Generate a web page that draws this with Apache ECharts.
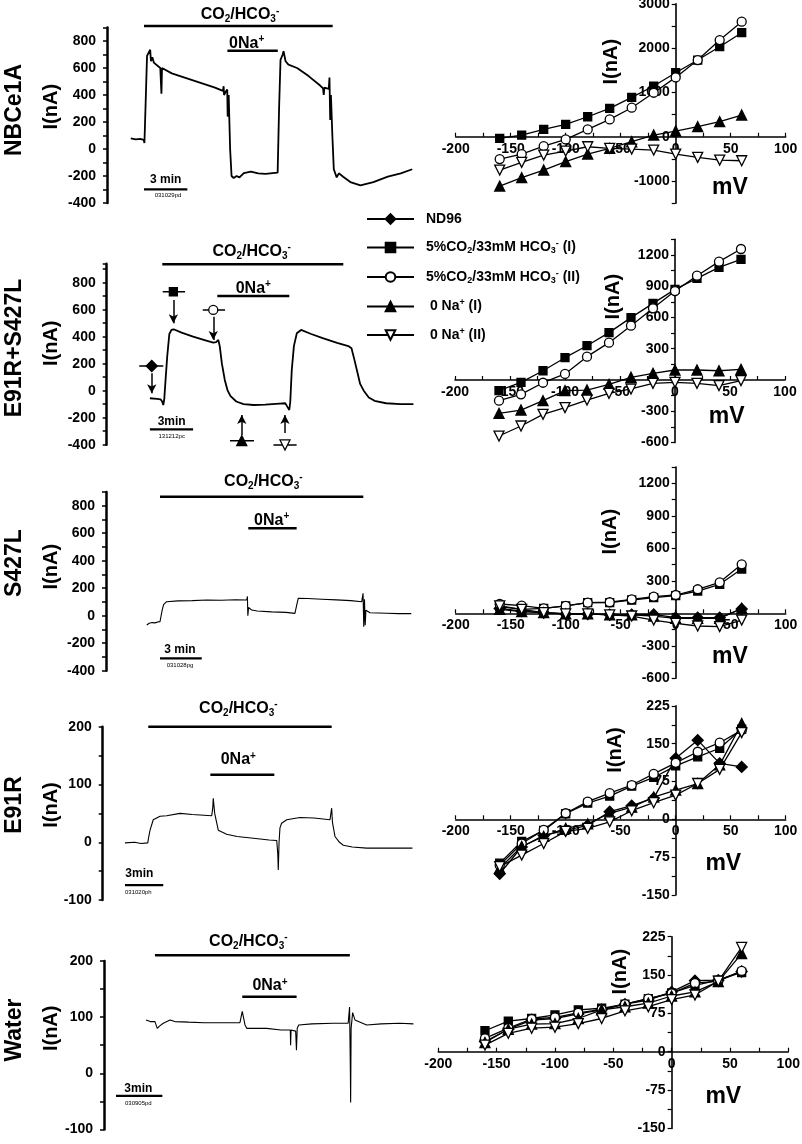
<!DOCTYPE html>
<html><head><meta charset="utf-8">
<script src="https://cdn.jsdelivr.net/npm/echarts@6/dist/echarts.min.js"></script>
<style>html,body{margin:0;padding:0;background:#fff}#c{width:802px;height:1144px}</style>
</head><body><div id="c"></div>
<script>
// ---------- DATA ----------
// Left: current traces (time in min, current in nA)
const traceNBCe1A = [[1.65,79],[2.0,72],[2.3,75],[2.55,68],[2.6,45],[2.7,400],[2.78,690],[2.9,700],[3.0,735],[3.05,650],[3.15,680],[3.25,640],[3.7,600],[3.78,410],[3.82,600],[4.5,560],[5.5,525],[6.5,490],[7.5,455],[8.05,430],[8.1,465],[8.13,400],[8.25,425],[8.35,440],[8.38,240],[8.45,400],[8.55,0],[8.65,-200],[8.8,-215],[9.0,-200],[9.2,-210],[9.5,-178],[10.0,-168],[10.5,-180],[11.0,-185],[11.85,-175],[11.95,300],[12.05,660],[12.2,700],[12.26,725],[12.4,650],[12.6,625],[13.2,600],[14.0,540],[14.8,470],[15.0,450],[15.05,400],[15.1,455],[15.4,445],[15.45,530],[15.5,215],[15.55,400],[15.65,100],[15.75,-150],[15.85,-160],[15.95,-210],[16.1,-180],[16.4,-205],[16.9,-245],[17.6,-270],[18.5,-245],[19.5,-205],[20.4,-180],[21.2,-150]];
const traceDouble = [[3.0,-56],[3.5,-60],[3.75,-65],[3.85,-80],[3.93,-106],[4.0,-60],[4.1,100],[4.2,250],[4.35,420],[4.5,450],[4.65,455],[5.2,430],[6.0,400],[6.8,375],[7.4,356],[7.6,360],[7.75,376],[7.85,330],[8.0,200],[8.2,80],[8.4,0],[8.6,-40],[9.0,-80],[9.5,-100],[10.2,-106],[11.0,-103],[12.0,-95],[12.4,-93],[12.55,-120],[12.68,-143],[12.75,-80],[12.85,150],[13.0,330],[13.2,425],[13.5,450],[14.2,420],[15.0,390],[16.0,355],[16.78,331],[17.0,314],[17.2,230],[17.4,140],[17.6,50],[17.85,0],[18.2,-50],[18.6,-75],[19.4,-93],[20.4,-99],[21.3,-100]];
const traceS427L = [[2.83,-68],[3.0,-55],[3.2,-50],[3.4,-52],[3.6,-45],[3.75,-44],[3.9,40],[4.0,80],[4.21,102],[5,108],[6,110],[7,114],[8,112],[9,116],[9.77,114],[9.82,140],[9.85,0],[9.9,60],[10.12,41],[10.5,34],[11.5,28],[12.5,24],[13.12,17],[13.25,80],[13.35,126],[14,125],[15,120],[16,115],[17,110],[17.76,102],[17.85,163],[17.9,-80],[17.95,120],[18.0,-70],[18.05,40],[18.33,22],[19.5,18],[20.3,15],[21.2,15]];
const traceE91R = [[1.74,-1],[2.5,0],[3.0,-2],[3.52,-1],[3.6,10],[3.7,21],[3.95,39],[4.48,45],[5.0,46],[6.04,50],[7.0,48],[8.52,46],[8.6,60],[8.64,76],[8.75,50],[9.03,21],[9.68,14],[10.5,10],[11.77,7],[13.0,4],[13.6,3],[13.68,-20],[13.72,-48],[13.78,0],[13.85,25],[13.98,33],[14.38,39],[15.41,43],[16.5,42],[17.76,39],[17.86,55],[17.89,59],[17.95,35],[18.15,10],[18.5,0],[18.8,-5],[19.5,-8],[20.63,-10],[22.0,-10],[23.2,-10],[24.2,-10]];
const traceWater = [[2.73,95],[3.0,92],[3.31,92],[3.46,80],[3.6,84],[3.85,89],[4.29,95],[4.6,92],[5.5,91],[6.5,90],[7.5,90],[8.83,90],[8.98,110],[9.16,86],[9.27,80],[10.56,80],[11.5,77],[12.1,77],[12.12,50],[12.15,77],[12.45,75],[12.5,41],[12.55,80],[12.65,86],[13.5,88],[14.89,89],[15.86,89],[15.95,118],[16.0,10],[16.02,-52],[16.05,80],[16.15,108],[16.3,95],[17.06,86],[18.0,88],[19.22,89],[20.1,88]];

// Solution bars [start, end, level]
const co2Bars   = [[2.57,15.67,911],[3.86,16.43,936],[3.75,17.87,866],[3.56,17.89,200],[3.31,15.97,210]];
const naBars    = [[8.36,11.86,728],[7.68,12.68,701],[9.88,13.24,636],[8.41,13.41,117],[8.98,12.51,136]];
const scaleBars = [[2.57,5.58,-299],[3.0,6.0,-286],[3.75,6.65,-310],[1.74,4.73,-74],[0.78,3.79,-40]];
const rowNames  = ['NBCe1A','E91R+S427L','S427L','E91R','Water'];
const recIds    = ['031029pd','131212pc','031028pg','031020ph','030905pd'];
const scaleText = ['3 min','3min','3 min','3min','3min'];

// E91R+S427L markers: [key, time, level, dashStart, dashEnd, arrowFrom, arrowTo]
const doubleMarks = [['nd',3.13,183,2.26,3.93,129,-19],['sq',4.63,733,3.89,5.44,672,499],['ci',7.40,598,6.67,8.22,548,376],['tf',9.38,-370,8.56,10.23,-328,-180],['to',12.38,-402,11.58,13.19,-313,-180]];

// Right: I-V relations
const mV = [-160,-140,-120,-100,-80,-60,-40,-20,0,20,40,60];
const ivNBCe1A = {
  sq:[-38,38,166,278,451,640,888,1144,1445,1731,2032,2348],
  ci:[-504,-391,-211,-60,166,391,655,993,1339,1731,2182,2596],
  tf:[-1114,-925,-752,-564,-391,-263,-113,38,128,226,339,489],
  to:[-752,-579,-414,-323,-226,-263,-278,-301,-391,-466,-527,-542]};
const ivDouble = {
  sq:[-102,-22,89,214,329,454,598,735,869,975,1080,1157],
  ci:[-198,-137,-26,58,224,358,521,687,853,1000,1135,1256],
  tf:[-320,-288,-198,-102,-96,-42,26,64,96,96,89,102],
  to:[-537,-441,-329,-265,-192,-128,-86,-32,-22,-32,-54,-6]};
const ivS427L = {
  nd:[45,20,5,-6,-6,-12,-12,-10,-40,-40,-40,40],
  sq:[62,37,46,68,98,98,123,145,163,206,268,409],
  ci:[86,71,46,68,98,102,129,154,169,222,286,452],
  tf:[37,15,6,-6,-6,-15,-15,-25,-46,-46,-46,46],
  to:[68,37,6,-6,-6,-15,-25,-62,-92,-117,-123,-62]};
const ivE91R = {
  nd:[-108,-55,-32,-22,-12,15,27,42,121,157,111,104],
  sq:[-87,-44,-22,11,32,46,66,83,106,124,141,179],
  ci:[-91,-48,-21,12,35,52,68,90,112,134,152,177],
  tf:[-97,-54,-34,-18,-9,12,24,44,58,71,108,190],
  to:[-94,-71,-48,-24,-18,-5,17,33,48,71,99,172]};
const ivWater = {
  nd:[20,44,62,65,74,82,93,101,117,139,140,157],
  sq:[41,60,65,72,82,85,93,104,115,130,140,155],
  ci:[26,46,64,67,76,83,93,104,114,134,138,158],
  tf:[18,44,54,55,65,82,88,95,109,117,137,192],
  to:[13,36,46,48,55,65,80,88,102,111,138,204]};
const legendNames = ['ND96','5%CO2/33mM HCO3- (I)','5%CO2/33mM HCO3- (II)','0 Na+ (I)','0 Na+ (II)'];

// ---------- LAYOUT / STYLE ----------
const FN = '"Liberation Sans Narrow","Liberation Sans",Arial,sans-serif';
const FR = '"Liberation Sans",Arial,sans-serif';
const traces = [traceNBCe1A, traceDouble, traceS427L, traceE91R, traceWater];
const ivs = [ivNBCe1A, ivDouble, ivS427L, ivE91R, ivWater];
const leftL = [
 {left:107, top:27.5, width:309.6, height:175.5, ymin:-400, ymax:900, step:100, lab:200, tmax:21.5, lw:1.8},
 {left:106.7, top:263.8, width:309.6, height:180.9, ymin:-400, ymax:940, step:100, lab:200, tmax:21.5, lw:1.8},
 {left:106, top:492, width:309.6, height:178.7, ymin:-400, ymax:900, step:100, lab:200, tmax:21.5, lw:1.1},
 {left:102.7, top:726.7, width:311, height:173.4, ymin:-100, ymax:200, step:50, lab:100, tmax:24.3, lw:1.1},
 {left:104, top:960.9, width:311, height:168.6, ymin:-100, ymax:200, step:50, lab:100, tmax:20.2, lw:1.1}];
const rightL = [
 {left:455.7, top:3.8, width:330, height:199.4, ymin:-1500, ymax:3000, step:500, lab:1000, hide0:false},
 {left:455, top:239.2, width:330, height:203.4, ymin:-600, ymax:1350, step:150, lab:300, hide0:true},
 {left:455.7, top:467.1, width:330, height:211.2, ymin:-600, ymax:1350, step:150, lab:300, hide0:true},
 {left:455.7, top:705.9, width:330, height:189, ymin:-150, ymax:225, step:37.5, lab:75, hide0:false},
 {left:438.3, top:936.7, width:350, height:191.7, ymin:-150, ymax:225, step:37.5, lab:75, hide0:false}];
const sty = {
 nd:{name:legendNames[0], symbol:'diamond', size:11, fill:'#000', rot:0},
 sq:{name:legendNames[1], symbol:'rect', size:8, fill:'#000', rot:0},
 ci:{name:legendNames[2], symbol:'circle', size:9, fill:'#fff', rot:0},
 tf:{name:legendNames[3], symbol:'triangle', size:10, fill:'#000', rot:0},
 to:{name:legendNames[4], symbol:'triangle', size:10, fill:'#fff', rot:180}};
const textPos = {
 co2:[[240,15],[251.7,251.7],[263.3,481.7],[238.3,708.3],[248.3,941.7]],
 na:[[246.7,43.3],[253.3,288.3],[271.7,520.7],[238.3,760],[270,986]],
 scale:[[165.7,180],[171.7,421.7],[180,649.3],[139.3,873.3],[138.3,1088.3]],
 id:[[168,195],[171.7,436],[180,665],[138.3,892.3],[138.3,1103.3]],
 row:[[15,110],[15,348],[15,563],[15,805],[15,1030]],
 lI:[[51.7,106.7],[51.7,343.3],[51.7,566.7],[51.7,805],[51.7,1028.3]],
 rI:[[611.7,61.7],[613.3,296.7],[610,531.7],[615,750],[620,971.7]],
 mv:[[730,188],[726.7,416.7],[730,656.7],[723.3,863.3],[723.3,1096.7]]};

const rich = {
 n:{fontFamily:FN, fontWeight:'bold', fontSize:16, color:'#000'},
 s:{fontFamily:FN, fontWeight:'bold', fontSize:10, color:'#000', padding:[9,0,0,0]},
 p:{fontFamily:FN, fontWeight:'bold', fontSize:10, color:'#000', padding:[0,0,8,0]}};
function txt(x,y,text,font,rot,extra){
  return Object.assign({type:'text', x:x, y:y, rotation:rot||0, silent:true,
    style:{text:text, font:font, fill:'#000', textAlign:'center', textVerticalAlign:'middle', align:'center', verticalAlign:'middle', rich:rich}}, extra||{});
}

const grids=[], xAxes=[], yAxes=[], series=[], graphics=[];
// Left panels
leftL.forEach((L,i)=>{
  grids.push({left:L.left, top:L.top, width:L.width, height:L.height, containLabel:false, outerBoundsMode:'none'});
  xAxes.push({type:'value', gridIndex:i, min:0, max:L.tmax, show:false});
  yAxes.push({type:'value', gridIndex:i, min:L.ymin, max:L.ymax, interval:L.step, splitLine:{show:false},
    axisLine:{show:true, onZero:false, lineStyle:{color:'#000', width:2.5}},
    axisTick:{show:true, length:4, lineStyle:{color:'#000', width:1.5}},
    axisLabel:{margin:11, color:'#000', fontFamily:FN, fontWeight:'bold', fontSize:14,
      formatter:v=> (Math.abs(v % L.lab) < 1e-9 ? String(v) : '')}});
  const lineS = (data,w)=>({type:'line', xAxisIndex:i, yAxisIndex:i, data:data, symbol:'none', clip:false, silent:true,
     lineStyle:{color:'#000', width:w}, z:3});
  series.push(lineS(traces[i], L.lw));
  series.push(lineS([[co2Bars[i][0],co2Bars[i][2]],[co2Bars[i][1],co2Bars[i][2]]], 2.5));
  series.push(lineS([[naBars[i][0],naBars[i][2]],[naBars[i][1],naBars[i][2]]], 2.5));
  series.push(lineS([[scaleBars[i][0],scaleBars[i][2]],[scaleBars[i][1],scaleBars[i][2]]], 2.2));
  graphics.push(txt(textPos.co2[i][0],textPos.co2[i][1],'{n|CO}{s|2}{n|/HCO}{s|3}{p|-}','bold 16px '+FN));
  graphics.push(txt(textPos.na[i][0],textPos.na[i][1],'{n|0Na}{p|+}','bold 16px '+FN));
  graphics.push(txt(textPos.scale[i][0],textPos.scale[i][1],scaleText[i],'bold 12px '+FN));
  graphics.push(txt(textPos.id[i][0],textPos.id[i][1],recIds[i],'6px '+FR));
  graphics.push(txt(textPos.row[i][0],textPos.row[i][1],rowNames[i],'bold 23px '+FR,Math.PI/2));
  graphics.push(txt(textPos.lI[i][0],textPos.lI[i][1],'I(nA)','bold 20px '+FR,Math.PI/2));
});
// Markers on the E91R+S427L trace
doubleMarks.forEach(m=>{
  const s = sty[m[0]];
  series.push({type:'line', name:'mark-'+m[0], xAxisIndex:1, yAxisIndex:1, clip:false, silent:true, z:4,
    symbol:s.symbol, symbolSize:s.size, symbolRotate:s.rot, showSymbol:true,
    itemStyle:{color:s.fill, borderColor:'#000', borderWidth:1.3},
    lineStyle:{color:'#000', width:1.5},
    data:[{value:[m[3],m[2]],symbol:'none'},{value:[m[1],m[2]]},{value:[m[4],m[2]],symbol:'none'}],
    markLine:{silent:true, symbol:['none','arrow'], symbolSize:[7,9], label:{show:false}, animation:false,
      lineStyle:{color:'#000', width:1.5, type:'solid'},
      data:[[{coord:[m[1],m[5]]},{coord:[m[1],m[6]]}]]}});
});
// Right panels (axes cross at the origin)
rightL.forEach((R,j)=>{
  const gi = 5+j;
  const xOff = -(0 - R.ymin)/(R.ymax - R.ymin)*R.height;
  const yOff = -(0 - (-200))/300*R.width;
  grids.push({left:R.left, top:R.top, width:R.width, height:R.height, containLabel:false, outerBoundsMode:'none'});
  xAxes.push({type:'value', gridIndex:gi, min:-200, max:100, interval:25, splitLine:{show:false},
    position:'bottom', offset:xOff,
    axisLine:{onZero:false, lineStyle:{color:'#000', width:1.6}},
    axisTick:{inside:true, length:4, lineStyle:{color:'#000', width:1.2}},
    axisLabel:{margin:5, color:'#000', fontFamily:FN, fontWeight:'bold', fontSize:14,
      formatter:v=> (v % 50 === 0 ? String(v) : '')}});
  yAxes.push({type:'value', gridIndex:gi, min:R.ymin, max:R.ymax, interval:R.step, splitLine:{show:false},
    position:'left', offset:yOff,
    axisLine:{onZero:false, lineStyle:{color:'#000', width:1.6}},
    axisTick:{length:4, lineStyle:{color:'#000', width:1.2}},
    axisLabel:{margin:6, color:'#000', fontFamily:FN, fontWeight:'bold', fontSize:14,
      formatter:v=> (Math.abs(v % R.lab) < 1e-9 && !(R.hide0 && v===0) ? String(v) : '')}});
  const iv = ivs[j];
  ['nd','sq','ci','tf','to'].forEach(k=>{
    if(!iv[k]) return;
    const s = sty[k];
    series.push({type:'line', name:s.name, xAxisIndex:gi, yAxisIndex:gi, clip:false, silent:true, z:5,
      data: mV.map((x,n)=>[x, iv[k][n]]), symbol:s.symbol, symbolSize:s.size, symbolRotate:s.rot, showSymbol:true,
      itemStyle:{color:s.fill, borderColor:'#000', borderWidth:1.3}, lineStyle:{color:'#000', width:1.3}});
  });
  graphics.push(txt(textPos.rI[j][0],textPos.rI[j][1],'I(nA)','bold 20px '+FR,Math.PI/2));
  graphics.push(txt(textPos.mv[j][0],textPos.mv[j][1],'mV','bold 23px '+FN));
});
const legendRich = {
 b:{fontFamily:FR, fontWeight:'bold', fontSize:14, color:'#000'},
 s:{fontFamily:FR, fontWeight:'bold', fontSize:9, color:'#000', padding:[7,0,0,0]},
 p:{fontFamily:FR, fontWeight:'bold', fontSize:9, color:'#000', padding:[0,0,7,0]}};
const legendFmt = {
 'ND96':'{b|ND96}',
 '5%CO2/33mM HCO3- (I)':'{b|5%CO}{s|2}{b|/33mM HCO}{s|3}{p|-}{b| (I)}',
 '5%CO2/33mM HCO3- (II)':'{b|5%CO}{s|2}{b|/33mM HCO}{s|3}{p|-}{b| (II)}',
 '0 Na+ (I)':'{b| 0 Na}{p|+}{b| (I)}',
 '0 Na+ (II)':'{b| 0 Na}{p|+}{b| (II)}'};

const chart = echarts.init(document.getElementById('c'), null, {renderer:'canvas'});
chart.setOption({
  animation:false, backgroundColor:'#fff',
  grid:grids, xAxis:xAxes, yAxis:yAxes, series:series, graphic:graphics,
  legend:{orient:'vertical', left:366, top:212, padding:0, itemWidth:47, itemHeight:12, itemGap:13.5,
    selectedMode:false, data:legendNames, formatter:n=>legendFmt[n],
    textStyle:{color:'#000', fontFamily:FR, fontWeight:'bold', fontSize:14, padding:[0,0,0,7], rich:legendRich}}
});
</script></body></html>
